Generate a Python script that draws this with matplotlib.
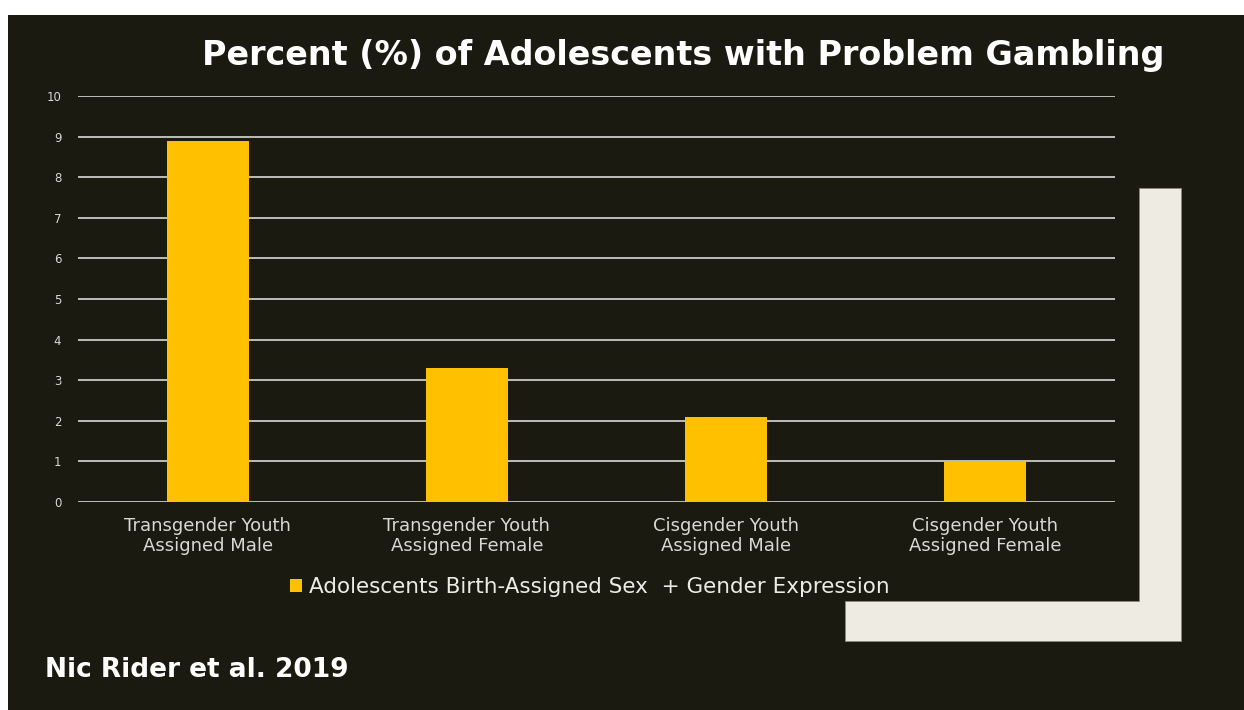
import matplotlib
matplotlib.use('Agg')
import matplotlib.pyplot as plt
from matplotlib.patches import Rectangle, Polygon

categories = ['Transgender Youth\nAssigned Male', 'Transgender Youth\nAssigned Female',
              'Cisgender Youth\nAssigned Male', 'Cisgender Youth\nAssigned Female']
values = [8.9, 3.3, 2.1, 1.0]
yticks = [0, 1, 2, 3, 4, 5, 6, 7, 8, 9, 10]
series_name = 'Adolescents Birth-Assigned Sex  + Gender Expression'
title = 'Percent (%) of Adolescents with Problem Gambling'
source = 'Nic Rider et al. 2019'

W, H = 1244, 710
BG = '#1b1a10'
GOLD = '#ffc000'
CREAM = '#eeebe3'
GRID = '#d9d9d4'

plt.rcParams['font.family'] = ['DejaVu Sans']

fig = plt.figure(figsize=(W / 100, H / 100), dpi=100)
fig.patch.set_facecolor('white')

def px(x, y, w, h):
    # pixel box (top-left origin) -> figure fraction
    return (x / W, 1 - (y + h) / H, w / W, h / H)

def pt(x, y):
    return (x / W, 1 - y / H)

# dark slide area
fig.patches.append(Rectangle(pt(8, H), (W - 8) / W, (H - 15) / H,
                             transform=fig.transFigure, facecolor=BG, edgecolor='none', zorder=0))
# cream L decoration
corners = [(1139, 188), (1181, 188), (1181, 641), (845, 641), (845, 601), (1139, 601)]
fig.patches.append(Polygon([pt(x, y) for x, y in corners], closed=True, transform=fig.transFigure,
                           facecolor=CREAM, edgecolor='#8a877c', linewidth=0.6, zorder=1))

ax = fig.add_axes(px(78, 96, 1037, 406))
ax.set_facecolor('none')
ax.set_zorder(2)
xs = range(len(categories))
ax.bar(xs, values, width=0.316, color=GOLD, zorder=3, label=series_name)
ax.set_xlim(-0.5, len(categories) - 0.5)
ax.set_ylim(0, 10)
ax.set_yticks(yticks)
for t in yticks:
    ax.axhline(t, color=GRID, linewidth=1.2, zorder=2)
for sp in ax.spines.values():
    sp.set_visible(False)
ax.tick_params(axis='y', length=0, pad=12, labelsize=8.5, labelcolor=GRID)
ax.tick_params(axis='x', length=0, pad=11, labelsize=13, labelcolor=GRID)
ax.set_xticks(list(xs))
ax.set_xticklabels(categories, linespacing=1.15)

leg = fig.legend(loc='center', bbox_to_anchor=(590 / W, 1 - 587 / H), frameon=False,
                 fontsize=15.5, labelcolor='#ecebe6', handlelength=0.55, handleheight=0.55,
                 handletextpad=0.35)

fig.text(683 / W, 1 - 55 / H, title, ha='center', va='center', fontsize=24,
         fontweight='bold', color='white')
fig.text(45 / W, 1 - 670 / H, source, ha='left', va='center', fontsize=19,
         fontweight='bold', color='white')

fig.savefig('out.png', dpi=100, facecolor=fig.get_facecolor())
